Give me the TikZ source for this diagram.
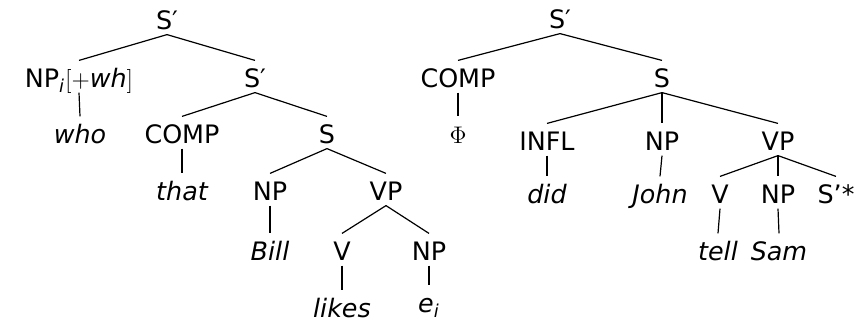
\documentclass[tikz,border=0pt]{standalone}
\usepackage{fontspec}
\setmainfont{DejaVu Sans}
\usepackage{tikz}

% categories upright, words oblique; fixed box height so the edges stop short of the text
\tikzset{
  cat/.style={anchor=base, inner sep=0pt, text height=13pt, text depth=2.5pt,
    font=\fontsize{12.7pt}{15pt}\selectfont},
  lex/.style={cat, font=\fontsize{12.7pt}{15pt}\selectfont\itshape},
}

\begin{document}
\begin{tikzpicture}[x=0.5pt, y=-0.5pt, line width=0.6pt]
\useasboundingbox (0,0) rectangle (857,323);

% left tree
\node[cat] (sA) at (167,29) {S′};
\node[cat] (npwh) at (79,87) {NP\textsubscript{\textit{i}}$[+$\textit{wh}$]$};
\node[cat] (sB) at (255,87) {S′};
\node[lex] (who) at (80,143) {who};
\node[cat] (compA) at (182,143) {COMP};
\node[cat] (sC) at (327,143) {S};
\node[lex] (that) at (182,200) {that};
\node[cat] (npA) at (270,200) {NP};
\node[cat] (vpA) at (386,200) {VP};
\node[lex] (bill) at (270,260) {Bill};
\node[cat] (vA) at (342,260) {V};
\node[cat] (npB) at (429,260) {NP};
\node[lex] (likes) at (342,317) {likes};
\node[lex] (ei) at (429,312) {e\textsubscript{i}};

% right tree
\node[cat] (sD) at (560,28) {S′};
\node[cat] (compB) at (458,87) {COMP};
\node[cat] (sE) at (662,87) {S};
\node[cat] (phi) at (458,143) {$\Phi$};
\node[cat] (infl) at (547,150) {INFL};
\node[cat] (npC) at (662,150) {NP};
\node[cat] (vpB) at (778,150) {VP};
\node[lex] (did) at (547,203) {did};
\node[lex] (john) at (660,203) {John};
\node[cat] (vB) at (720,203) {V};
\node[cat] (npD) at (778,203) {NP};
\node[cat] (sstar) at (836,203) {S\symbol{39}*};
\node[lex] (tell) at (718,260) {tell};
\node[lex] (sam) at (779,260) {Sam};

% branches
\foreach \a/\b in {sA/npwh, sA/sB, npwh/who, sB/compA, sB/sC, compA/that,
    sC/npA, sC/vpA, npA/bill, vpA/vA, vpA/npB, vA/likes, npB/ei,
    sD/compB, sD/sE, compB/phi, sE/infl, sE/npC, sE/vpB, infl/did,
    npC/john, vpB/vB, vpB/npD, vpB/sstar, vB/tell, npD/sam}
  \draw (\a.south) -- (\b.north);

\end{tikzpicture}
\end{document}
